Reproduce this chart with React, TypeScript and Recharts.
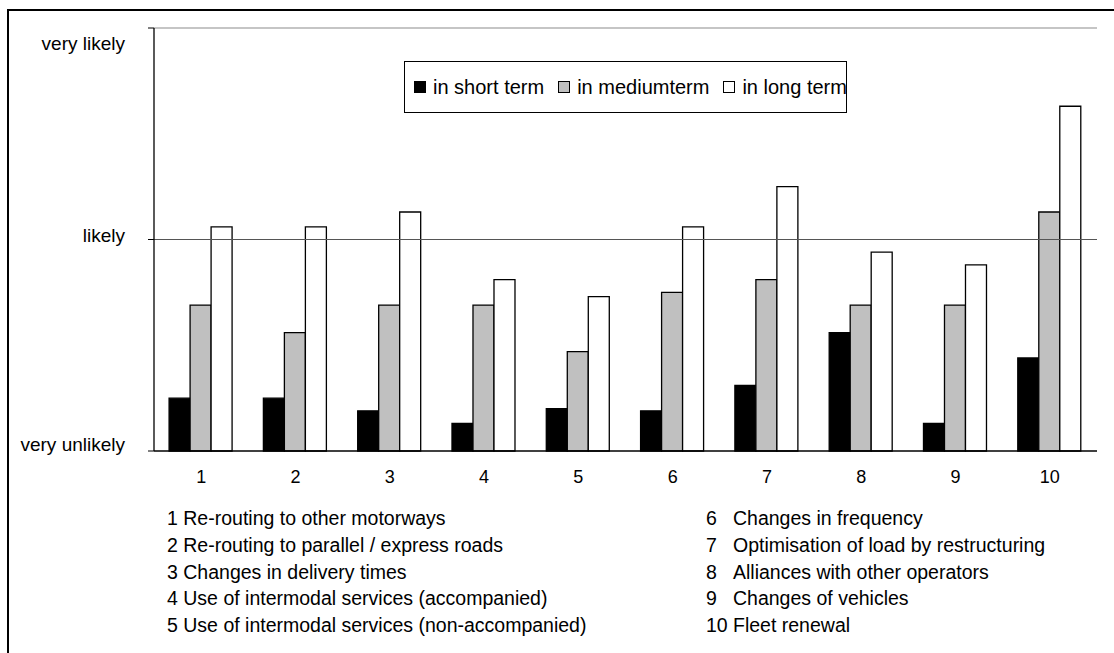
import { BarChart, Bar, XAxis, YAxis, ReferenceLine, Legend } from 'recharts'

// measure numbers on the x axis
const categories = ['1', '2', '3', '4', '5', '6', '7', '8', '9', '10']

// mean likelihood per measure: 0 = very unlikely, 1 = likely, 2 = very likely
const shortTerm = [0.25, 0.25, 0.19, 0.13, 0.2, 0.19, 0.31, 0.56, 0.13, 0.44]
const mediumTerm = [0.69, 0.56, 0.69, 0.69, 0.47, 0.75, 0.81, 0.69, 0.69, 1.13]
const longTerm = [1.06, 1.06, 1.13, 0.81, 0.73, 1.06, 1.25, 0.94, 0.88, 1.63]

const scaleLabels = ['very unlikely', 'likely', 'very likely']

const measures = [
  'Re-routing to other motorways',
  'Re-routing to parallel / express roads',
  'Changes in delivery times',
  'Use of intermodal services (accompanied)',
  'Use of intermodal services (non-accompanied)',
  'Changes in frequency',
  'Optimisation of load by restructuring',
  'Alliances with other operators',
  'Changes of vehicles',
  'Fleet renewal',
]

const SERIES = [
  { key: 'short', name: 'in short term', fill: '#000000' },
  { key: 'medium', name: 'in mediumterm', fill: '#c0c0c0' },
  { key: 'long', name: 'in long term', fill: '#ffffff' },
]

const data = categories.map((id, i) => ({
  id,
  short: shortTerm[i],
  medium: mediumTerm[i],
  long: longTerm[i],
}))

const FONT = '"Liberation Sans", Arial, sans-serif'

// labels sit a little inside the plot at the ends, like the old spreadsheet export
const LEVEL_SHIFT = [-7, -4, 15]

function ScaleTick({ x, y, payload }: any) {
  const v = payload.value as number
  return (
    <text
      x={x - 21}
      y={y + LEVEL_SHIFT[v]}
      textAnchor="end"
      dominantBaseline="central"
      fontSize={19}
      fontFamily={FONT}
      fill="#000"
    >
      {scaleLabels[v]}
    </text>
  )
}

function CategoryTick({ x, y, payload }: any) {
  return (
    <text
      x={x}
      y={y + 26}
      textAnchor="middle"
      dominantBaseline="central"
      fontSize={18}
      fontFamily={FONT}
      fill="#000"
    >
      {payload.value}
    </text>
  )
}

function LegendBox() {
  return (
    <div
      style={{
        display: 'flex',
        alignItems: 'center',
        height: '100%',
        paddingLeft: 9,
        boxSizing: 'border-box',
        fontFamily: FONT,
        fontSize: 20,
        color: '#000',
        whiteSpace: 'nowrap',
      }}
    >
      {SERIES.map((s, i) => (
        <div key={s.key} style={{ display: 'flex', alignItems: 'center', marginLeft: i === 0 ? 0 : 14 }}>
          <span
            style={{
              width: 10,
              height: 10,
              background: s.fill,
              border: '1px solid #000',
              marginRight: 7,
            }}
          />
          <span>{s.name}</span>
        </div>
      ))}
    </div>
  )
}

export default function App() {
  const left = measures.slice(0, 5)
  const right = measures.slice(5)
  return (
    <div
      style={{
        position: 'absolute',
        left: 0,
        top: 0,
        width: 1114,
        height: 653,
        background: '#fff',
        overflow: 'hidden',
        fontFamily: FONT,
      }}
    >
      {/* outer frame, only top and left edges are in view */}
      <div
        style={{
          position: 'absolute',
          left: 7,
          top: 9,
          right: 0,
          bottom: 0,
          borderTop: '2px solid #000',
          borderLeft: '2px solid #000',
        }}
      />

      <div style={{ position: 'absolute', left: 0, top: 0 }}>
        <BarChart
          width={1114}
          height={500}
          data={data}
          margin={{ top: 28, right: 17, bottom: 47, left: 0 }}
          barGap={0}
          barCategoryGap="16%"
        >
          <XAxis
            xAxisId="cat"
            dataKey="id"
            height={1}
            tickLine={false}
            tickSize={0}
            tickMargin={0}
            axisLine={{ stroke: '#000', strokeWidth: 1.3 }}
            tick={<CategoryTick />}
            interval={0}
          />
          <XAxis
            xAxisId="edge"
            type="number"
            domain={[0, 10]}
            ticks={[0, 1, 2, 3, 4, 5, 6, 7, 8, 9, 10]}
            allowDataOverflow
            height={1}
            axisLine={false}
            tickLine={{ stroke: '#000', strokeWidth: 1 }}
            tickSize={5}
            tick={false}
          />
          <YAxis
            width={154}
            domain={[0, 2]}
            ticks={[0, 1, 2]}
            tickSize={6}
            axisLine={{ stroke: '#000', strokeWidth: 1.3 }}
            tickLine={{ stroke: '#000', strokeWidth: 1 }}
            tick={<ScaleTick />}
          />
          <ReferenceLine xAxisId="cat" y={1} stroke="#555" strokeWidth={1} />
          <ReferenceLine xAxisId="cat" y={2} stroke="#8c8c8c" strokeWidth={1.2} />
          <ReferenceLine xAxisId="edge" x={10} stroke="#8c8c8c" strokeWidth={1.2} />
          <Legend
            layout="horizontal"
            verticalAlign="middle"
            align="center"
            content={<LegendBox />}
            wrapperStyle={{
              left: 404,
              top: 61,
              width: 443,
              height: 52,
              border: '1px solid #000',
              background: '#fff',
              boxSizing: 'border-box',
            }}
          />
          {SERIES.map((s) => (
            <Bar
              key={s.key}
              xAxisId="cat"
              dataKey={s.key}
              name={s.name}
              fill={s.fill}
              stroke="#000"
              strokeWidth={1.3}
              isAnimationActive={false}
            />
          ))}
        </BarChart>
      </div>

      {/* key to the measure numbers */}
      <div style={{ position: 'absolute', left: 167, top: 505, fontSize: 19.5, lineHeight: '26.8px', color: '#000' }}>
        {left.map((m, i) => (
          <div key={m} style={{ whiteSpace: 'nowrap' }}>
            {categories[i]} {m}
          </div>
        ))}
      </div>
      <div style={{ position: 'absolute', left: 706, top: 505, fontSize: 19.5, lineHeight: '26.8px', color: '#000' }}>
        {right.map((m, i) => (
          <div key={m} style={{ display: 'flex', whiteSpace: 'nowrap' }}>
            <span style={{ width: 27 }}>{categories[i + 5]}</span>
            <span>{m}</span>
          </div>
        ))}
      </div>
    </div>
  )
}
